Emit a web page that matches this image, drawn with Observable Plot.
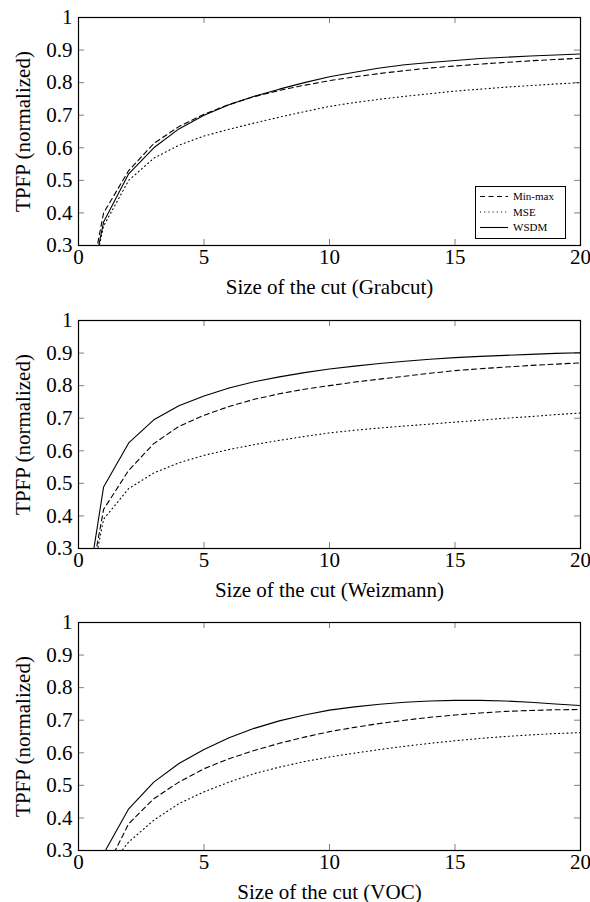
<!DOCTYPE html>
<html><head><meta charset="utf-8">
<script src="https://cdn.jsdelivr.net/npm/d3@7"></script>
<script src="https://cdn.jsdelivr.net/npm/@observablehq/plot@0.6"></script>
<style>
body{margin:0;background:#fff}
#wrap{position:relative;width:590px;height:902px;overflow:hidden}
#wrap svg{display:block}
#wrap svg, #wrap svg text{font-family:'Liberation Serif','DejaVu Serif',serif !important}
#legend{position:absolute;left:475px;top:186px}
</style>
</head><body><div id="wrap"></div>
<script>
// ---- data ----
const cutSize = [0,1,2,3,4,5,6,7,8,9,10,11,12,13,14,15,16,17,18,19,20];
const datasets = ["Grabcut", "Weizmann", "VOC"];
const methods = ["Min-max", "MSE", "WSDM"];

const grabcutMinMax = [0,0.40,0.53,0.613,0.665,0.703,0.733,0.757,0.776,0.792,0.806,0.818,0.828,0.837,0.845,0.851,0.857,0.862,0.867,0.871,0.875];
const grabcutMSE    = [0,0.36,0.50,0.568,0.608,0.636,0.657,0.676,0.694,0.711,0.727,0.739,0.749,0.758,0.766,0.774,0.780,0.786,0.791,0.796,0.800];
const grabcutWSDM   = [0,0.372,0.52,0.60,0.658,0.70,0.732,0.758,0.78,0.80,0.818,0.832,0.845,0.855,0.862,0.868,0.874,0.878,0.882,0.885,0.888];

const weizmannMinMax = [0,0.42,0.54,0.622,0.675,0.709,0.736,0.758,0.775,0.789,0.80,0.811,0.82,0.829,0.838,0.846,0.852,0.857,0.862,0.866,0.87];
const weizmannMSE    = [0,0.39,0.484,0.532,0.563,0.586,0.604,0.619,0.632,0.644,0.655,0.663,0.67,0.676,0.682,0.688,0.694,0.70,0.705,0.711,0.716];
const weizmannWSDM   = [0,0.489,0.624,0.695,0.738,0.768,0.793,0.812,0.827,0.84,0.851,0.86,0.868,0.875,0.881,0.886,0.89,0.893,0.896,0.899,0.901];

const vocMinMax = [0,0.23,0.382,0.459,0.51,0.551,0.582,0.607,0.629,0.648,0.665,0.678,0.69,0.70,0.709,0.716,0.722,0.727,0.73,0.732,0.733];
const vocMSE    = [0,0.23,0.326,0.393,0.444,0.48,0.51,0.536,0.556,0.573,0.587,0.599,0.61,0.62,0.629,0.637,0.644,0.65,0.655,0.659,0.662];
const vocWSDM   = [0,0.29,0.428,0.51,0.567,0.61,0.646,0.675,0.698,0.716,0.731,0.741,0.749,0.755,0.759,0.761,0.761,0.759,0.755,0.75,0.745];

const xTicks = [0,5,10,15,20];
const yTicks = [0.3,0.4,0.5,0.6,0.7,0.8,0.9,1];
const xLabelPrefix = "Size of the cut";
const yLabel = "TPFP (normalized)";

// ---- build ----
const series = {
  Grabcut: [grabcutMinMax, grabcutMSE, grabcutWSDM],
  Weizmann: [weizmannMinMax, weizmannMSE, weizmannWSDM],
  VOC: [vocMinMax, vocMSE, vocWSDM]
};
const dashes = {"Min-max": "5,3.5", "MSE": "1,3.2", "WSDM": null};
const lw = 1.1;

const font = "'Liberation Serif', 'DejaVu Serif', serif";
const sizes = [{h:301, mt:17}, {h:302, mt:19}, {h:299, mt:19}];
const innerH = 228, innerW = 502, tick = 6;
const tickColor = "#808080";
const wrap = document.getElementById("wrap");

datasets.forEach((ds, i) => {
  const {h, mt} = sizes[i];
  const mb = h - mt - innerH;
  const lineMarks = methods.map((m, j) => {
    const rows = cutSize.map((x, k) => ({x, y: series[ds][j][k]}));
    return Plot.line(rows, {x: "x", y: "y", stroke: "black", strokeWidth: lw,
      strokeDasharray: dashes[m], clip: true});
  });
  const chart = Plot.plot({
    width: 590, height: h,
    marginLeft: 78, marginRight: 10, marginTop: mt, marginBottom: mb,
    style: `font-family: ${font}; font-size: 21px; background: white; color: black; overflow: visible;`,
    x: {domain: [0, 20], ticks: xTicks},
    y: {domain: [0.3, 1], ticks: yTicks},
    marks: [
      // inward ticks on all four sides
      Plot.ruleX(xTicks, {x: d => d, stroke: tickColor, strokeWidth: 1, insetTop: innerH - tick}),
      Plot.ruleX(xTicks, {x: d => d, stroke: tickColor, strokeWidth: 1, insetBottom: innerH - tick}),
      Plot.ruleY(yTicks, {y: d => d, stroke: tickColor, strokeWidth: 1, insetRight: innerW - tick}),
      Plot.ruleY(yTicks, {y: d => d, stroke: tickColor, strokeWidth: 1, insetLeft: innerW - tick}),
      ...lineMarks,
      Plot.axisX({anchor: "bottom", ticks: xTicks, tickSize: 0, tickPadding: 4, fontSize: 21,
        label: `${xLabelPrefix} (${ds})`, labelAnchor: "center", labelOffset: 48, labelArrow: "none"}),
      Plot.axisY({anchor: "left", ticks: yTicks, tickSize: 0, tickPadding: 6, fontSize: 21,
        tickFormat: d => d === 1 ? "1" : d3.format(".1f")(d),
        label: yLabel, labelAnchor: "center", labelOffset: 63, labelArrow: "none"}),
      Plot.frame({stroke: "black", strokeWidth: 1.2})
    ]
  });
  wrap.appendChild(chart);
});

// ---- legend (first panel) ----
const lg = d3.select(wrap).append("svg").attr("id", "legend").attr("width", 91).attr("height", 53);
lg.append("rect").attr("x", 0.5).attr("y", 0.5).attr("width", 90).attr("height", 52)
  .attr("fill", "white").attr("stroke", "black").attr("stroke-width", 1);
methods.forEach((m, j) => {
  const y = 10.5 + j * 15.5;
  lg.append("line").attr("x1", 5).attr("x2", 33).attr("y1", y).attr("y2", y)
    .attr("stroke", "black").attr("stroke-width", lw)
    .attr("stroke-dasharray", dashes[m]);
  lg.append("text").attr("x", 38).attr("y", y).attr("dy", "0.35em")
    .attr("font-size", 11).text(m);
});
</script>
</body></html>
